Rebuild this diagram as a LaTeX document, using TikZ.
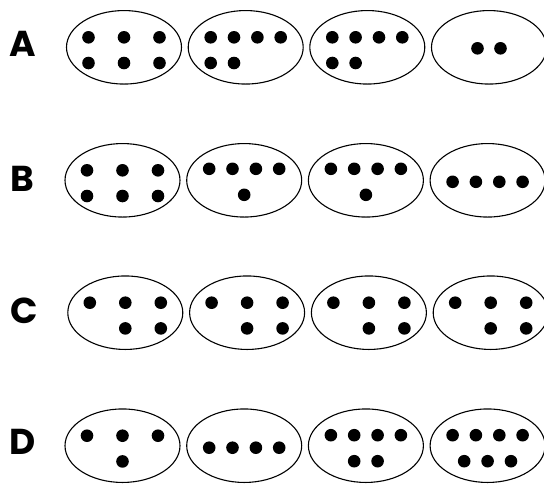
\documentclass[tikz,border=0pt]{standalone}
\usepackage{fontspec}
\setmainfont{Poppins}
\usetikzlibrary{shapes.geometric,calc}
\newcommand\putdots[2]{\foreach \dx/\dy in {#2}{\fill ($(#1)+(\dx,\dy)$) circle (6.3pt);}}
\begin{document}
\begin{tikzpicture}[x=1pt,y=-1pt,
  oval/.style={draw,ellipse,line width=1.1pt,minimum width=115pt,minimum height=73.5pt,inner sep=0pt},
  rowlabel/.style={font=\fontsize{36}{36}\selectfont\bfseries,anchor=center,inner sep=0pt}]
\useasboundingbox (0,0) rectangle (544,483);
% labels
\node[rowlabel] (LA) at (23,44) {A};
\node[rowlabel] (LB) at (22,178.7) {B};
\node[rowlabel] (LC) at (24,311) {C};
\node[rowlabel] (LD) at (23,442) {D};
% ovals
\node[oval] (A1) at (124,47.3) {};
\node[oval] (A2) at (245.7,47.3) {};
\node[oval] (A3) at (367.3,47.3) {};
\node[oval] (A4) at (489,47.3) {};
\node[oval] (B1) at (122.5,180.3) {};
\node[oval] (B2) at (244.2,180.3) {};
\node[oval] (B3) at (365.9,180.3) {};
\node[oval] (B4) at (487.6,180.3) {};
\node[oval] (C1) at (125.3,312.7) {};
\node[oval] (C2) at (247.1,312.7) {};
\node[oval] (C3) at (368.9,312.7) {};
\node[oval] (C4) at (490.7,312.7) {};
\node[oval] (D1) at (122.5,445.7) {};
\node[oval] (D2) at (244.2,445.7) {};
\node[oval] (D3) at (365.9,445.7) {};
\node[oval] (D4) at (487.6,445.7) {};
% dots row A
\putdots{A1}{-35.5/-10,0/-10,35.5/-10,-35.5/15.7,0/15.7,35.5/15.7}
\putdots{A2}{-35/-10,-11.7/-10,11.7/-10,35/-10,-35/15.7,-11.7/15.7}
\putdots{A3}{-35/-10,-11.7/-10,11.7/-10,35/-10,-35/15.7,-11.7/15.7}
\putdots{A4}{-11.5/1,11.5/1}
% dots row B
\putdots{B1}{-35.5/-10,0/-10,35.5/-10,-35.5/15.7,0/15.7,35.5/15.7}
\putdots{B2}{-35/-11.5,-11.7/-11.5,11.7/-11.5,35/-11.5,0/14.5}
\putdots{B3}{-35/-11.5,-11.7/-11.5,11.7/-11.5,35/-11.5,0/14.5}
\putdots{B4}{-35/1.5,-11.7/1.5,11.7/1.5,35/1.5}
% dots row C
\putdots{C1}{-35.5/-10,0/-10,35.5/-10,0/15.7,35.5/15.7}
\putdots{C2}{-35.5/-10,0/-10,35.5/-10,0/15.7,35.5/15.7}
\putdots{C3}{-35.5/-10,0/-10,35.5/-10,0/15.7,35.5/15.7}
\putdots{C4}{-35.5/-10,0/-10,35.5/-10,0/15.7,35.5/15.7}
% dots row D
\putdots{D1}{-35.5/-10,0/-10,35.5/-10,0/15.7}
\putdots{D2}{-35/2,-11.7/2,11.7/2,35/2}
\putdots{D3}{-35/-10.5,-11.7/-10.5,11.7/-10.5,35/-10.5,-11.7/15.5,11.7/15.5}
\putdots{D4}{-35/-10.5,-11.7/-10.5,11.7/-10.5,35/-10.5,-23.4/15.5,0/15.5,23.4/15.5}
\end{tikzpicture}
\end{document}
